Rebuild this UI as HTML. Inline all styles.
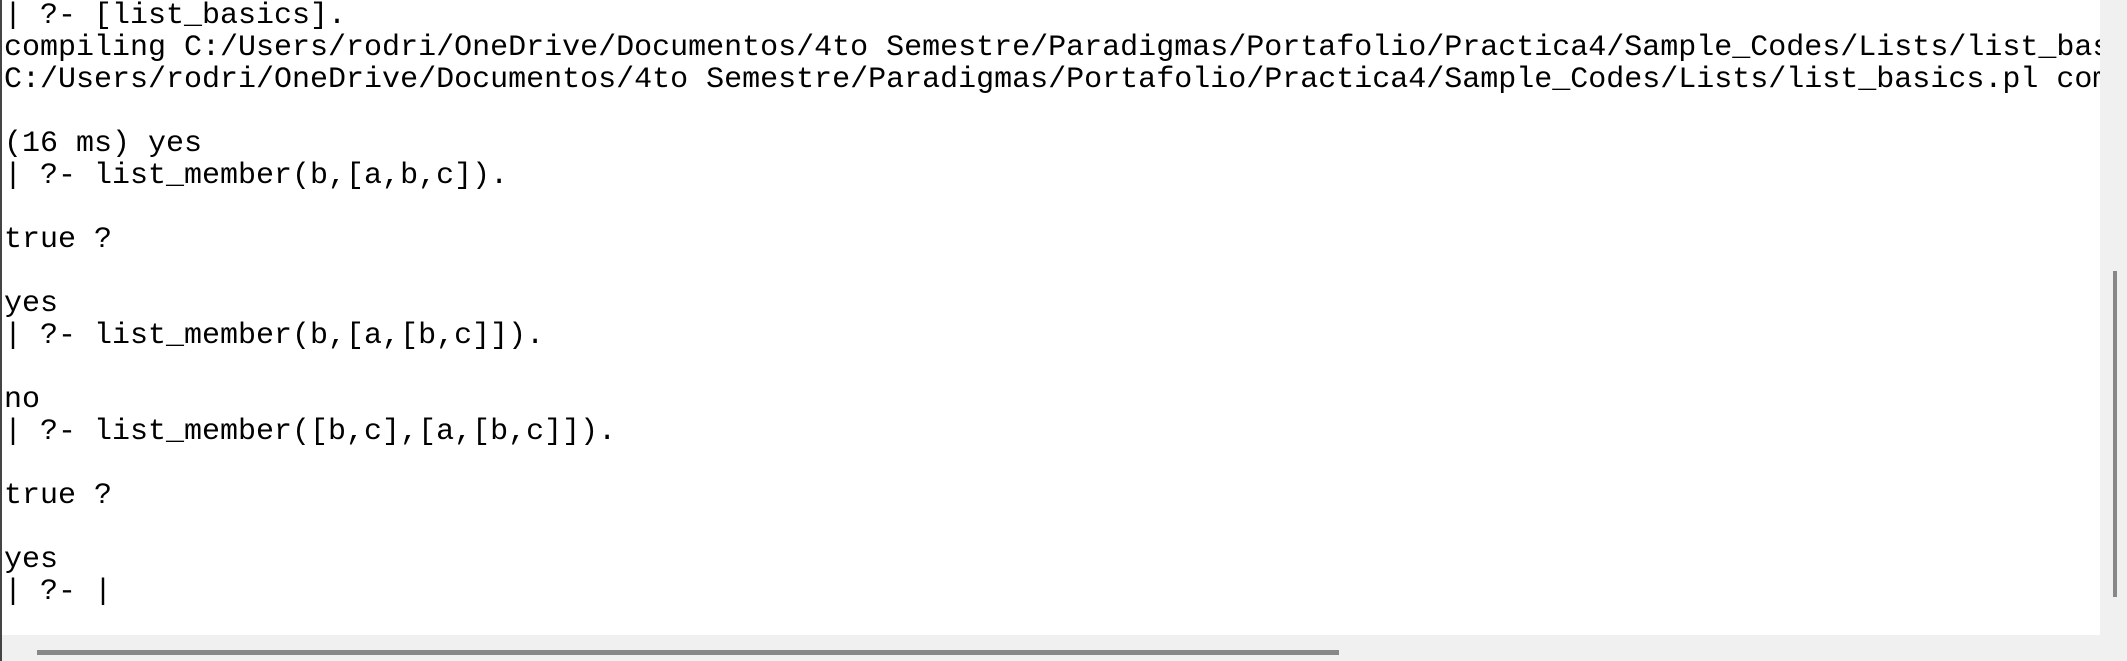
<!DOCTYPE html>
<html><head><meta charset="utf-8"><style>
html,body{margin:0;padding:0;width:2127px;height:661px;overflow:hidden;background:#fff;}
#lb{position:absolute;left:0;top:0;width:2px;height:661px;background:#444;}
#clip{position:absolute;left:0;top:0;width:2100px;height:635px;overflow:hidden;}
pre{position:absolute;left:4px;top:0;margin:0;font-family:"Liberation Mono","DejaVu Sans Mono",monospace;font-size:30px;line-height:32px;color:#000;white-space:pre;}
#vr{position:absolute;left:2100px;top:0;width:27px;height:661px;background:#f0f0f0;}
#vt{position:absolute;left:2113px;top:271px;width:4px;height:326px;background:#888;}
#hb{position:absolute;left:2px;top:635px;width:2125px;height:26px;background:#f0f0f0;}
#ht{position:absolute;left:37px;top:650px;width:1302px;height:5px;background:#888;}
</style></head><body>
<div id="clip"><pre>| ?- [list_basics].
compiling C:/Users/rodri/OneDrive/Documentos/4to Semestre/Paradigmas/Portafolio/Practica4/Sample_Codes/Lists/list_basics
C:/Users/rodri/OneDrive/Documentos/4to Semestre/Paradigmas/Portafolio/Practica4/Sample_Codes/Lists/list_basics.pl compiled

(16 ms) yes
| ?- list_member(b,[a,b,c]).

true ?

yes
| ?- list_member(b,[a,[b,c]]).

no
| ?- list_member([b,c],[a,[b,c]]).

true ?

yes
| ?- |</pre></div>
<div id="vr"></div><div id="vt"></div>
<div id="hb"></div><div id="ht"></div>
<div id="lb"></div>
</body></html>
